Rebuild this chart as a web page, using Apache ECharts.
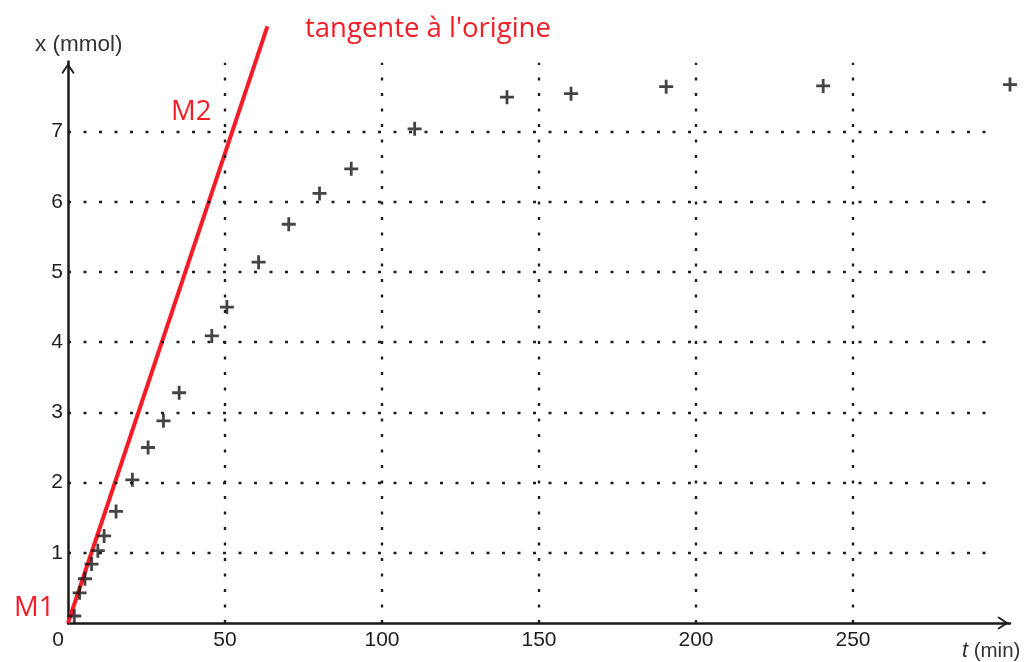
<!DOCTYPE html>
<html>
<head>
<meta charset="utf-8">
<script src="https://cdn.jsdelivr.net/npm/echarts@6/dist/echarts.min.js"></script>
<style>
html,body{margin:0;padding:0;background:#fff;}
#chart{width:1026px;height:662px;}
</style>
</head>
<body>
<div id="chart"></div>
<script>
// ---- data ----
const times = [2, 3.7, 5.4, 7.5, 9.5, 11.5, 15.3, 20.5, 25.5, 30.4, 35.4, 45.8, 50.6, 60.7, 70.3, 80.1, 90.2, 110.4, 139.8, 160.2, 190.5, 240.5, 300];
const amounts = [0.1, 0.43, 0.63, 0.84, 1.03, 1.24, 1.59, 2.04, 2.5, 2.88, 3.28, 4.09, 4.5, 5.14, 5.68, 6.12, 6.47, 7.04, 7.49, 7.54, 7.64, 7.65, 7.67];
const tangentT = [0, 63.5];
const tangentX = [0, 8.5];
const xTickLabels = [0, 50, 100, 150, 200, 250];
const yTickLabels = [1, 2, 3, 4, 5, 6, 7];
const xGridValues = [50, 100, 150, 200, 250];
const yGridValues = [1, 2, 3, 4, 5, 6, 7];
const xGridEnd = 295;
const yGridEnd = 7.98;
const xAxisName = 't (min)';
const yAxisName = 'x (mmol)';
const tangentLabel = "tangente à l'origine";
const pointLabels = ['M1', 'M2'];

// ---- chart ----
const chart = echarts.init(document.getElementById('chart'));
const plusPath = 'path://M5.6,0h2.8v5.6h5.6v2.8h-5.6v5.6h-2.8v-5.6h-5.6v-2.8h5.6z';
const arrowPath = 'path://M10,0L20,15L18,17L10,5L2,17L0,15Z';
const red = '#f41c26';
const ink = '#1a1a1a';

const gridLines = [];
xGridValues.forEach(v => gridLines.push([{coord: [v, 0]}, {coord: [v, yGridEnd]}]));
yGridValues.forEach(v => gridLines.push([{coord: [0, v]}, {coord: [xGridEnd, v]}]));

const option = {
  backgroundColor: '#fff',
  animation: false,
  grid: {left: 68, right: 16, top: 61.4, bottom: 39},
  xAxis: {
    type: 'value', min: 0, max: 300, interval: 50,
    axisLine: {show: true, onZero: false, lineStyle: {color: ink, width: 2.5},
      symbol: ['none', arrowPath], symbolSize: [13, 15], symbolOffset: [0, -7]},
    axisTick: {show: false},
    splitLine: {show: false},
    axisLabel: {
      margin: 7, color: '#1e1e1e', fontFamily: 'Liberation Sans', fontSize: 21,
      formatter: v => v === 0 ? '{z|0}' : (xTickLabels.includes(v) ? String(v) : ''),
      rich: {z: {padding: [0, 20, 0, 0], fontFamily: 'Liberation Sans', fontSize: 21, color: '#1e1e1e'}}
    }
  },
  yAxis: {
    type: 'value', min: 0, max: 8, interval: 1,
    axisLine: {show: true, onZero: false, lineStyle: {color: ink, width: 2.5},
      symbol: ['none', arrowPath], symbolSize: [13, 15], symbolOffset: [0, -7]},
    axisTick: {show: false},
    splitLine: {show: false},
    axisLabel: {
      margin: 5, color: '#1e1e1e', fontFamily: 'Liberation Sans', fontSize: 21,
      formatter: v => yTickLabels.includes(v) ? String(v) : ''
    }
  },
  graphic: [
    {type: 'text', left: 35, top: 33, style: {text: yAxisName, fontFamily: 'Liberation Sans', fontSize: 22.5, fill: '#333'}},
    {type: 'text', left: 962, top: 640, style: {
      text: '{i|t} (min)', fontFamily: 'Liberation Sans', fontSize: 20.5, fill: '#333',
      rich: {i: {fontStyle: 'italic', fontFamily: 'Liberation Sans', fontSize: 21.5, fill: '#333'}}}},
    {type: 'text', left: 305, top: 15, style: {text: tangentLabel, fontFamily: 'Open Sans', fontSize: 27.5, fill: red}},
    {type: 'text', left: 14, top: 594, style: {text: pointLabels[0], fontFamily: 'Open Sans', fontSize: 27.5, fill: red}},
    {type: 'text', left: 171, top: 98, style: {text: pointLabels[1], fontFamily: 'Open Sans', fontSize: 27.5, fill: red}}
  ],
  series: [
    {
      type: 'scatter', data: [], silent: true,
      markLine: {
        silent: true, symbol: ['none', 'none'], label: {show: false},
        lineStyle: {color: '#1e1e1e', width: 2.4, type: [3, 12.5]},
        animation: false,
        data: gridLines
      }
    },
    {
      type: 'line', clip: false, showSymbol: false, silent: true,
      data: tangentT.map((t, i) => [t, tangentX[i]]),
      lineStyle: {color: red, width: 4}, z: 4
    },
    {
      type: 'scatter', clip: false, symbol: plusPath, symbolSize: 14,
      itemStyle: {color: '#151515'}, z: 5,
      data: times.map((t, i) => [t, amounts[i]])
    }
  ]
};
chart.setOption(option);
</script>
</body>
</html>
